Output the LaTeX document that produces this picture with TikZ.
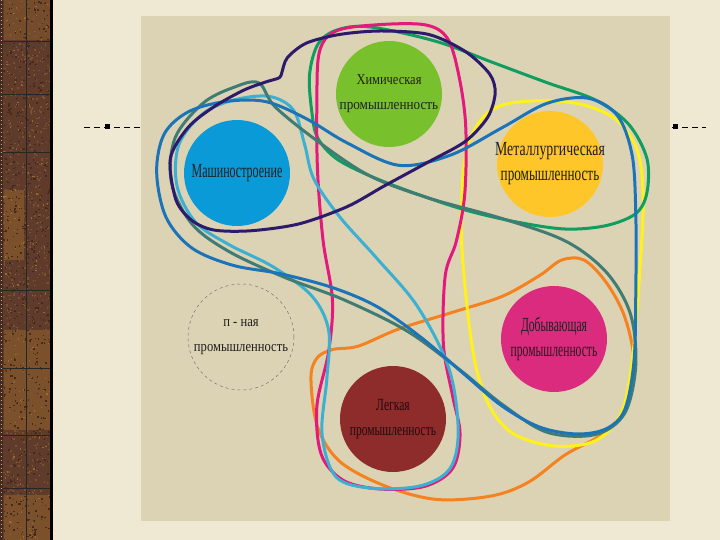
\documentclass[tikz,border=0pt]{standalone}
\usepackage{graphicx}
\usepackage{fontspec}
\setmainfont{Liberation Serif}
\definecolor{paper}{HTML}{EFE9D3}
\definecolor{panel}{HTML}{DCD3B4}
\definecolor{wood}{HTML}{5E3B2A}
\definecolor{woodl}{HTML}{7E5030}
\definecolor{woodo}{HTML}{A8742E}
\definecolor{woodd}{HTML}{45291C}
\definecolor{cchem}{HTML}{78C12C}
\definecolor{cmash}{HTML}{0A9AD8}
\definecolor{cmet}{HTML}{FFC629}
\definecolor{cdob}{HTML}{DB2B7E}
\definecolor{clight}{HTML}{8E2B2B}
\definecolor{lnavy}{HTML}{2E1A6B}
\definecolor{lgreen}{HTML}{0F9D60}
\definecolor{lyellow}{HTML}{FFF21A}
\definecolor{lorange}{HTML}{F58220}
\definecolor{lmagenta}{HTML}{E3197B}
\definecolor{lcyan}{HTML}{3BB0D2}
\definecolor{lteal}{HTML}{417C74}
\definecolor{lblue}{HTML}{1C74B8}
\newcommand{\sq}[2]{\scalebox{#1}[1]{#2}}
\tikzset{
  disk/.style={circle, minimum size=106pt, inner sep=0pt},
  txt/.style={align=center, inner sep=0pt, text=black!88},
  ring/.style={line width=3pt, line join=round},
  tickline/.style={black, line width=0.8pt, dash pattern=on 6pt off 4pt},
}
\begin{document}
\begin{tikzpicture}[x=1pt,y=-1pt]
\useasboundingbox (0,0) rectangle (720,540);
\fill[paper] (0,0) rectangle (720,540);
% wooden strip
\fill[wood] (0,0) rectangle (52,540);
\fill[woodo, opacity=0.4] (4,190) rectangle (24,260);
\fill[woodo, opacity=0.4] (4,330) rectangle (50,430);
\fill[woodo, opacity=0.3] (4,0) rectangle (50,40);
\fill[woodo, opacity=0.4] (4,495) rectangle (50,540);
\pgfmathsetseed{7}
\foreach \i in {1,...,1600}{
  \pgfmathsetmacro{\xx}{3+rnd*47}
  \pgfmathsetmacro{\yy}{rnd*540}
  \pgfmathsetmacro{\kk}{rnd}
  \ifdim\kk pt<0.45pt
    \fill[woodl] (\xx,\yy) rectangle ++(1.5,1.5);
  \else\ifdim\kk pt<0.85pt
    \fill[woodd] (\xx,\yy) rectangle ++(1.5,1.5);
  \else
    \fill[woodo, opacity=0.8] (\xx,\yy) rectangle ++(1.2,1.2);
  \fi\fi
}
\draw[black!85, line width=1pt] (26,0) -- (26,540);
\foreach \y in {42,95,153,290,368,435,488}
  \draw[black!85, line width=1pt] (3,\y) -- (50,\y);
\draw[woodd, line width=3pt] (1.5,0) -- (1.5,540);
\draw[paper!70!wood, line width=1pt, dash pattern=on 1pt off 3pt] (1.5,0) -- (1.5,540);
\draw[black, line width=2.5pt] (51.5,0) -- (51.5,540);
% panel
\fill[panel] (141,16) rectangle (670,521);
% marks
\draw[tickline] (84,127) -- (140,127);
\fill[black] (104.5,124.5) rectangle (109.5,129.5);
\draw[tickline] (672,127) -- (706,127);
\fill[black] (672.5,124.5) rectangle (677.5,129.5);
% circles
\node[disk, fill=cchem] (chem) at (389,94) {};
\node[disk, fill=cmash] (mash) at (237,173) {};
\node[disk, fill=cmet] (met) at (550,164) {};
\node[disk, draw=black!55, dashed, line width=0.5pt] (nth) at (241,337) {};
\node[disk, fill=cdob] (dob) at (554,339) {};
\node[disk, fill=clight] (light) at (393,419) {};
% texts
\node[txt, font=\fontsize{15}{25}\selectfont] (chem-t) at (chem)
  {\sq{0.83}{Химическая}\\\sq{0.88}{промышленность}};
\node[txt, font=\fontsize{20}{25}\selectfont] (mash-t) at (mash)
  {\sq{0.6}{Машиностроение}};
\node[txt, font=\fontsize{20}{25}\selectfont] (met-t) at (met)
  {\sq{0.69}{Металлургическая}\\\sq{0.66}{промышленность}};
\node[txt, font=\fontsize{15}{25}\selectfont] (nth-t) at (nth)
  {\sq{0.84}{п - ная}\\\sq{0.84}{промышленность}};
\node[txt, font=\fontsize{20}{25}\selectfont] (dob-t) at (dob)
  {\sq{0.58}{Добывающая}\\\sq{0.58}{промышленность}};
\node[txt, text=black!75!clight, font=\fontsize{17}{25}\selectfont] (light-t) at (light)
  {\sq{0.68}{Легкая}\\\sq{0.68}{промышленность}};
% rings
\begin{scope}[shift={(140,0)}, xscale=0.370, yscale=0.3444]
\draw[ring, lorange] plot[smooth cycle, tension=0.55] coordinates {
 (462,1100) (478,1040) (520,1015) (590,1005) (700,955) (850,905) (980,860) (1080,800)
 (1140,755) (1200,755) (1260,820) (1310,920) (1335,1050) (1315,1180) (1250,1260)
 (1150,1320) (1050,1400) (950,1440) (800,1450) (660,1410) (540,1340) (480,1240)};
\draw[ring, lyellow] plot[smooth cycle, tension=0.55] coordinates {
 (880,450) (920,350) (980,305) (1090,292) (1200,305) (1290,350) (1345,440) (1360,580)
 (1350,800) (1330,1050) (1300,1200) (1230,1280) (1120,1295) (1010,1260) (945,1180)
 (905,1050) (880,850) (868,650)};
\draw[ring, lgreen] plot[smooth cycle, tension=0.55] coordinates {
 (465,330) (458,220) (480,130) (530,88) (620,78) (800,120) (950,180) (1100,240)
 (1230,290) (1320,360) (1370,460) (1370,560) (1340,620) (1260,655) (1150,665)
 (1020,645) (880,610) (740,560) (620,510) (530,460) (480,400)};
\draw[ring, lmagenta] plot[smooth cycle, tension=0.55] coordinates {
 (485,150) (530,90) (640,72) (770,72) (830,110) (860,210) (880,360) (878,560)
 (855,700) (825,800) (820,1000) (845,1150) (865,1260) (845,1360) (770,1412)
 (650,1420) (550,1395) (490,1320) (478,1180) (510,1020) (520,870) (495,700)
 (480,500) (478,300)};
\draw[ring, lcyan] plot[smooth cycle, tension=0.55] coordinates {
 (350,280) (415,320) (445,420) (470,520) (540,630) (640,750) (750,890) (835,1070)
 (860,1250) (838,1360) (760,1410) (630,1418) (530,1385) (492,1260) (505,1100)
 (510,960) (465,860) (360,775) (240,710) (150,645) (100,540) (105,420) (170,330)
 (255,290)};
\draw[ring, lteal] plot[smooth cycle, tension=0.55] coordinates {
 (320,240) (365,310) (480,410) (620,510) (780,575) (980,635) (1150,700) (1260,790)
 (1325,910) (1340,1060) (1310,1200) (1230,1262) (1100,1255) (980,1175) (860,1070)
 (720,960) (550,870) (390,805) (240,730) (140,650) (85,530) (95,400) (170,300)
 (250,255)};
\draw[ring, lblue] plot[smooth cycle, tension=0.55] coordinates {
 (45,500) (65,390) (130,325) (230,295) (340,295) (450,345) (560,415) (700,480)
 (840,450) (980,370) (1100,300) (1210,285) (1290,335) (1330,450) (1340,620)
 (1340,850) (1335,1050) (1310,1190) (1260,1245) (1180,1260) (1080,1240) (980,1180)
 (880,1090) (760,980) (640,890) (520,835) (380,795) (250,770) (140,720) (70,630)};
\draw[ring, lnavy] plot[smooth cycle, tension=0.5] coordinates {
 (82,460) (130,370) (200,310) (280,262) (340,238) (376,226) (383,212) (398,168)
 (450,125) (540,100) (650,90) (780,100) (880,150) (945,215) (960,270) (940,340)
 (880,410) (780,470) (660,540) (560,600) (430,650) (300,670) (200,668) (140,640)
 (97,580)};
\end{scope}
\end{tikzpicture}
\end{document}
